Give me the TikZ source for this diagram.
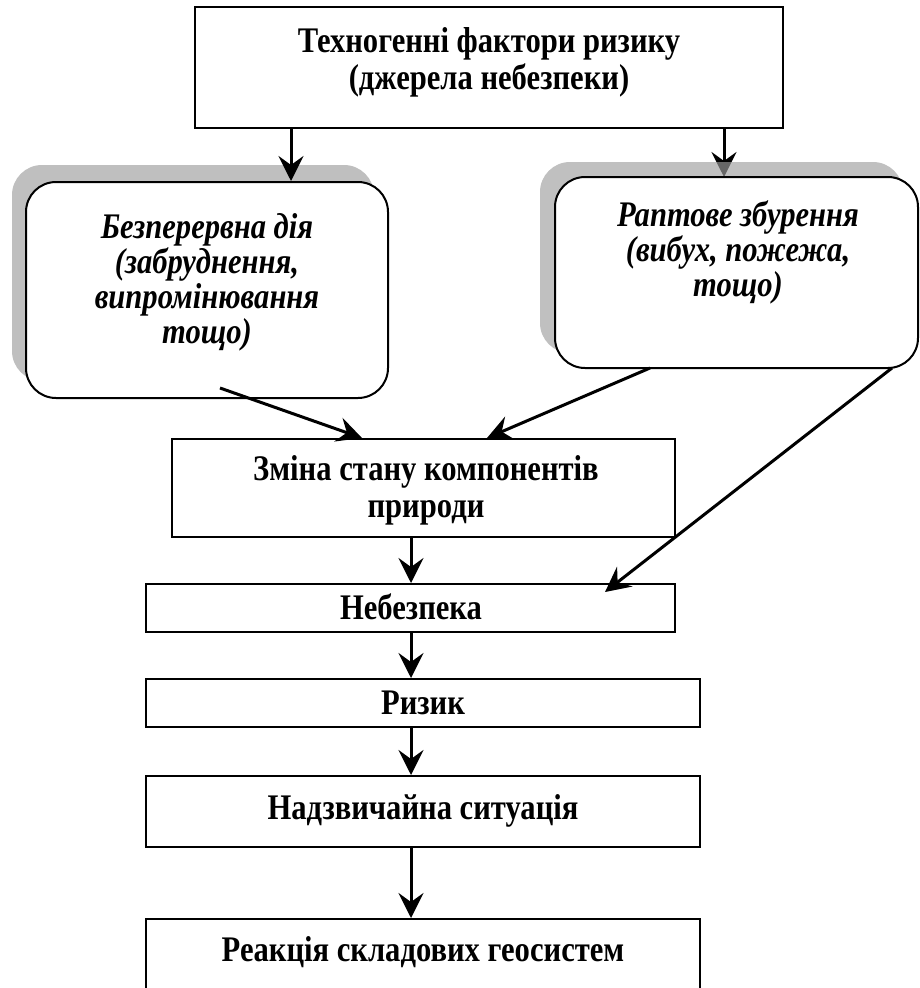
\documentclass[tikz,border=0pt]{standalone}
\usepackage{fontspec}
\setmainfont{Liberation Serif}[FakeStretch=0.85]
\usetikzlibrary{arrows.meta}
\begin{document}
\begin{tikzpicture}[x=1pt,y=-1pt,
  box/.style={draw, line width=2pt, fill=white, inner sep=0pt},
  rbox/.style={draw, line width=2pt, fill=white, rounded corners=30pt, inner sep=0pt},
  shadowbox/.style={fill=black!38, rounded corners=30pt, inner sep=0pt},
  lbl/.style={font=\fontsize{36}{37}\selectfont\bfseries, align=center, inner sep=0pt},
  ilbl/.style={font=\fontsize{36}{35}\selectfont\bfseries\itshape, align=center, inner sep=0pt},
  arr/.style={line width=3pt, -{Stealth[length=25pt,width=25pt,inset=9pt]}},
]
\useasboundingbox (0,0) rectangle (919,988);
\clip (0,0) rectangle (919,988);
% axes for vertical connectors
\coordinate (ax1) at (291,0);
\coordinate (ax2) at (724,0);
\coordinate (axm) at (411,0);
% shadows and boxes
\node[shadowbox, minimum width=362pt, minimum height=216pt, fill=black!25] (lbs) at (193,273) {};
\node[box, minimum width=588pt, minimum height=121pt] (top) at (489,67.5) {};
\coordinate (rbtop) at (724,177);
\draw[arr] (top.south -| ax2) -- (rbtop);
\node[shadowbox, minimum width=363pt, minimum height=191pt, fill opacity=0.65] (rbs) at (721.5,257.5) {};
\node[rbox, minimum width=362pt, minimum height=216pt] (lb) at (207,290) {};
\node[rbox, minimum width=363pt, minimum height=191pt] (rb) at (736.5,272.5) {};
\draw[arr] (top.south -| ax1) -- (lb.north -| ax1);

\node[box, minimum width=503pt, minimum height=98pt] (chg) at (423.5,488) {};
\node[box, minimum width=529pt, minimum height=48pt] (neb) at (410.5,608) {};
\node[box, minimum width=554pt, minimum height=48pt] (riz) at (423,703) {};
\node[box, minimum width=554pt, minimum height=71pt] (nad) at (423,811.5) {};
\node[box, minimum width=554pt, minimum height=91pt] (reak) at (423,964.5) {};

% texts
\node[lbl] (t1) at (489,62) {Техногенні фактори ризику\\(джерела небезпеки)};
\node[ilbl] (t2) at (207,282) {Безперервна дія\\(забруднення,\\випромінювання\\тощо)};
\node[ilbl] (t3) at (738,252) {Раптове збурення\\(вибух, пожежа,\\тощо)};
\node[lbl] (t4) at (426,490) {Зміна стану компонентів\\природи};
\node[lbl] (t5) at (411,607) {Небезпека};
\node[lbl] (t6) at (423,703) {Ризик};
\node[lbl] (t7) at (423,811) {Надзвичайна ситуація};
\node[lbl] (t8) at (423,952) {Реакція складових геосистем};

% diagonal connectors
\coordinate (d1s) at (220,388);
\coordinate (d1e) at (362,438);
\coordinate (d2s) at (650,368);
\coordinate (d2e) at (487,438);
\coordinate (d3s) at (892,368);
\coordinate (d3e) at (605,592);
\draw[arr] (d1s) -- (d1e);
\draw[arr] (d2s) -- (d2e);
\draw[arr] (d3s) -- (d3e);

% vertical connectors
\draw[arr] (chg.south -| axm) -- (neb.north -| axm);
\draw[arr] (neb.south -| axm) -- (riz.north -| axm);
\draw[arr] (riz.south -| axm) -- (nad.north -| axm);
\draw[arr] (nad.south -| axm) -- (reak.north -| axm);
\end{tikzpicture}
\end{document}
